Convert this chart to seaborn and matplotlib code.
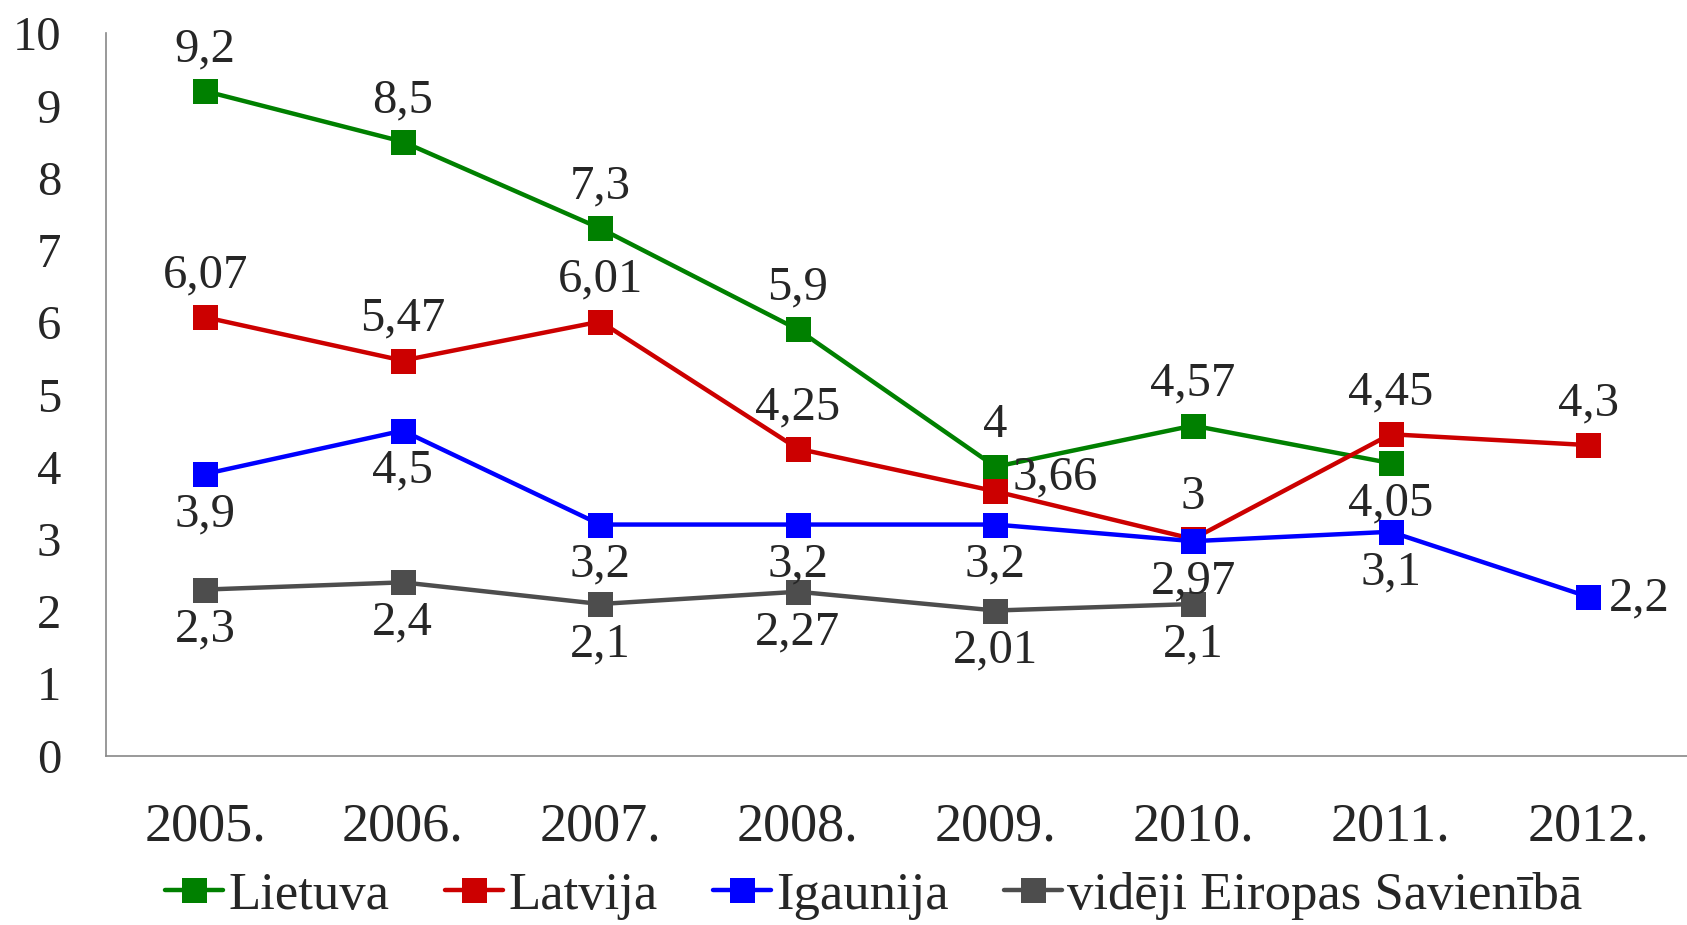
import matplotlib
import matplotlib.pyplot as plt
import pandas as pd
import seaborn as sns
from matplotlib.ticker import FixedLocator

matplotlib.use("Agg")

# data
years = ["2005.", "2006.", "2007.", "2008.", "2009.", "2010.", "2011.", "2012."]
series_names = ["Lietuva", "Latvija", "Igaunija", "vidēji Eiropas Savienībā"]
lietuva = [9.2, 8.5, 7.3, 5.9, 4, 4.57, 4.05]
latvija = [6.07, 5.47, 6.01, 4.25, 3.66, 3, 4.45, 4.3]
igaunija = [3.9, 4.5, 3.2, 3.2, 3.2, 2.97, 3.1, 2.2]
es_videji = [2.3, 2.4, 2.1, 2.27, 2.01, 2.1]

# where the data label sits: a = above, b = below, r = right, q = upper right
lietuva_pos = ["a", "a", "a", "a", "a", "a", "b"]
latvija_pos = ["a", "a", "a", "a", "q", "a", "a", "a"]
igaunija_pos = ["b", "b", "b", "b", "b", "b", "b", "r"]
es_pos = ["b", "b", "b", "b", "b", "b"]

colors = ["#008000", "#cc0000", "#0000ff", "#4d4d4d"]

rows = []
for name, vals in zip(series_names, [lietuva, latvija, igaunija, es_videji]):
    for yr, v in zip(years, vals):
        rows.append({"year": yr, "value": v, "series": name})
df = pd.DataFrame(rows)

sns.set_style("white")
plt.rcParams["font.family"] = ["Liberation Serif", "DejaVu Serif"]
FS = 35

fig = plt.figure(figsize=(16.87, 9.25), dpi=100)
ax = fig.add_axes([0.063, 0.183, 0.937, 0.781])

sns.lineplot(
    data=df, x="year", y="value", hue="series", hue_order=series_names,
    palette=colors, marker="s", markersize=18, markeredgewidth=0,
    linewidth=3.2, sort=False, ax=ax, legend=True,
)

# data labels
offsets = {"a": (0, 30, "center", "center"), "b": (0, -29, "center", "center"),
           "r": (15, -1, "left", "center"), "q": (12, 10, "left", "center")}
for vals, pos in zip([lietuva, latvija, igaunija, es_videji],
                     [lietuva_pos, latvija_pos, igaunija_pos, es_pos]):
    for i, (v, p) in enumerate(zip(vals, pos)):
        dx, dy, ha, va = offsets[p]
        ax.annotate(f"{v:g}".replace(".", ","), (i, v), xytext=(dx, dy),
                    textcoords="offset points", ha=ha, va=va, fontsize=FS)

ax.set_xlim(-0.5, 7.5)
ax.set_ylim(0, 10)
ax.set_yticks(range(0, 11))
ax.set_xlabel("")
ax.set_ylabel("")
ax.xaxis.set_minor_locator(FixedLocator([i - 0.5 for i in range(9)]))
ax.tick_params(axis="x", which="major", length=0, labelsize=39, pad=33)
ax.tick_params(axis="x", which="minor", length=11, width=1.2, color="#888888", direction="out")
ax.tick_params(axis="y", length=11.5, width=1.2, color="#888888", direction="out",
               labelsize=FS, pad=21)
for s in ["top", "right"]:
    ax.spines[s].set_visible(False)
for s in ["left", "bottom"]:
    ax.spines[s].set_color("#888888")
    ax.spines[s].set_linewidth(1.2)

handles, labels = ax.get_legend_handles_labels()
ax.get_legend().remove()
fig.legend(handles, labels, loc="lower center", bbox_to_anchor=(0.518, 0.0), ncol=4,
           frameon=False, fontsize=38, handlelength=1.1, handletextpad=0.1,
           columnspacing=1.05, borderpad=0, borderaxespad=0.1)

plt.savefig("out.png", dpi=100)
plt.close()
